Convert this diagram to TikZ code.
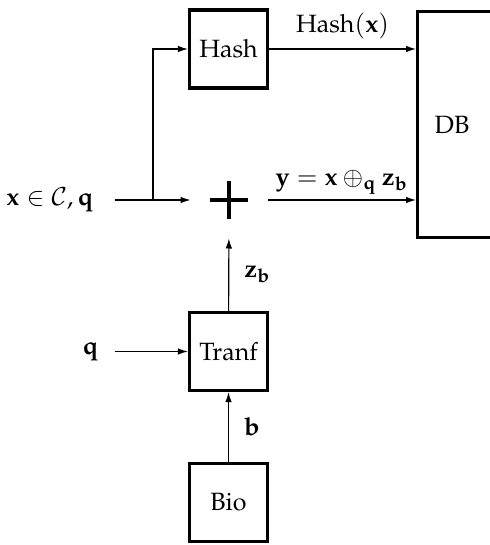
\documentclass[tikz,border=0pt]{standalone}
\usepackage[T1]{fontenc}
\usepackage{mathpazo}
\usetikzlibrary{arrows.meta,calc}
\begin{document}
\begin{tikzpicture}[x=0.4pt,y=-0.4pt,
  blk/.style={draw,line width=1.3pt,minimum width=31.2pt,minimum height=31.2pt,inner sep=0pt,font=\normalsize},
  conn/.style={line width=0.45pt,-{Latex[length=4pt,width=2.6pt]}},
  lbl/.style={inner sep=2pt}]
\useasboundingbox (0,0) rectangle (489,545);
\node[blk] (hash) at (228.5,49) {Hash};
\node[blk] (tranf) at (228.5,351.5) {Tranf};
\node[blk] (bio) at (228.5,502.5) {Bio};
\node[draw,line width=1.3pt,minimum width=30.4pt,minimum height=90.4pt,inner sep=0pt,anchor=north west] (db) at (416,10) {};
\node at (452,125) {DB};
\node[circle,minimum size=30.4pt,inner sep=0pt,
  path picture={\draw[line width=1.3pt] ($(path picture bounding box.center)+(-7.6pt,0)$) -- ($(path picture bounding box.center)+(7.6pt,0)$);
                \draw[line width=1.3pt] ($(path picture bounding box.center)+(0,-7.6pt)$) -- ($(path picture bounding box.center)+(0,7.6pt)$);}] (plus) at (229,200) {};
\node[anchor=east,inner sep=0pt] (in) at (94,200) {$\mathbf{x}\in\mathcal{C},\mathbf{q}$};
\node[anchor=east,inner sep=0pt] (qin) at (99,351.5) {$\mathbf{q}$};
\coordinate (br) at (153,200);
\draw[line width=0.45pt,shorten <=8.4pt] (in.east) -- (br);
\draw[conn] (br) -- (plus);
\draw[conn] (br) |- (hash.west);
\draw[conn] (hash.east) -- node[above,lbl,yshift=1.8pt] {Hash$(\mathbf{x})$} (hash.east -| db.west);
\draw[conn] (plus) -- node[above,lbl] {$\mathbf{y}=\mathbf{x}\oplus_{\mathbf{q}}\mathbf{z}_{\mathbf{b}}$} (plus -| db.west);
\draw[conn] (tranf) -- node[right,lbl,xshift=4pt] {$\mathbf{z}_{\mathbf{b}}$} (plus);
\draw[conn,shorten <=6.4pt] (qin.east) -- (tranf.west);
\draw[conn] (bio) -- node[right,lbl,xshift=4pt] {$\mathbf{b}$} (tranf);
\end{tikzpicture}
\end{document}
